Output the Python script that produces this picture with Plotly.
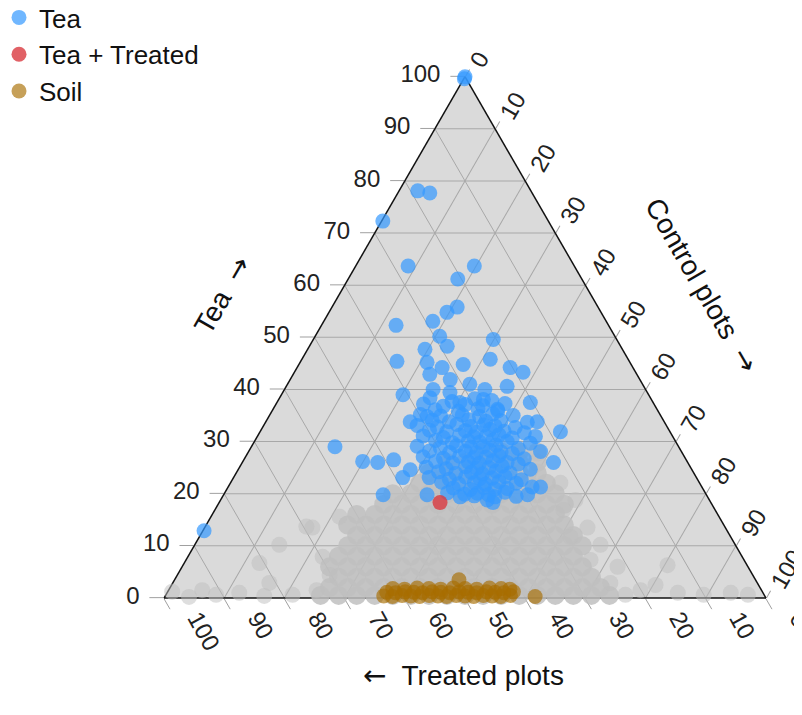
import plotly.graph_objects as go

# ---------------- data (percent) ----------------
# Tea samples: Tea share and Control-plots share; Treated = 100 - Tea - Control
tea_tea = [
    100.0, 99.6, 78.1, 77.7, 72.3, 63.7, 63.7, 61.2, 55.8, 54.8, 53.1, 52.3, 50.2, 49.6,
    47.7, 48.3, 45.4, 45.2, 44.2, 44.8, 45.8, 44.2, 43.3, 42.9, 40.6, 40.0, 39.0, 39.4,
    37.5, 38.1, 36.2, 37.5, 33.8, 34.8, 33.7, 33.8, 31.9, 29.0, 26.2, 26.0, 26.5, 24.6,
    26.0, 23.1, 19.8, 19.8, 19.4, 18.8, 18.3, 19.8, 21.3, 31.0, 12.9, 41.9, 41.0, 40.0,
    38.4, 37.7, 38.2, 37.9,
    37.2, 36.8, 37.1, 36.9, 37.3,
    36.1, 35.8, 36.3, 35.9,
    35.2, 34.9, 35.1, 34.8, 35.3, 35.0,
    34.1, 33.8, 34.2, 33.9, 34.0,
    33.1, 32.8, 33.3, 32.9, 33.2, 33.0, 32.7,
    32.2, 31.9, 32.1, 31.8, 32.3, 32.0, 31.7,
    31.1, 30.8, 31.2, 30.9, 31.0, 31.3, 30.7,
    30.2, 29.8, 30.1, 29.9, 30.3, 30.0, 29.7,
    29.1, 28.8, 29.2, 28.9, 29.0, 29.3, 28.7,
    28.2, 27.9, 28.1, 27.8, 28.3, 28.0, 27.7, 28.1,
    27.1, 26.8, 27.2, 26.9, 27.0, 27.3, 26.7,
    26.2, 25.9, 26.1, 25.8, 26.3, 26.0, 25.7,
    25.1, 24.8, 25.2, 24.9, 25.0, 25.3, 24.7,
    24.2, 23.9, 24.1, 23.8, 24.3, 24.0,
    23.1, 22.8, 23.2, 22.9, 23.0, 23.3, 22.7,
    22.2, 21.9, 22.1, 21.8, 22.3, 22.0,
    21.1, 20.8, 21.2, 20.9, 21.0, 21.3,
    20.2, 19.9, 20.1, 19.8, 20.3,
    19.6, 19.4, 19.5,
]
tea_control = [
    0.0, 0.1, 3.1, 5.3, 0.2, 8.7, 19.7, 18.2, 20.8, 19.6, 18.1, 12.4, 20.7, 29.9,
    19.5, 22.9, 16.0, 21.1, 24.1, 27.3, 31.3, 35.4, 38.0, 22.7, 36.7, 24.7, 20.2, 27.8,
    30.4, 34.0, 37.3, 42.1, 24.0, 26.3, 43.5, 45.1, 49.9, 13.9, 19.9, 22.5, 24.9, 28.6,
    51.7, 28.1, 26.5, 33.8, 39.5, 44.3, 45.5, 50.5, 51.9, 46.2, 0.2, 26.6, 30.3, 33.3,
    25.0, 29.0, 32.5, 35.5,
    24.5, 28.0, 31.5, 34.5, 38.0,
    27.0, 31.0, 34.0, 37.5,
    25.0, 28.5, 32.0, 35.0, 37.0, 40.5,
    27.5, 30.5, 33.5, 36.5, 39.0,
    25.5, 29.0, 32.0, 34.5, 36.5, 38.5, 42.0,
    28.0, 31.0, 34.0, 36.0, 38.0, 40.5, 44.0,
    27.5, 31.0, 33.5, 36.0, 38.0, 40.0, 42.5,
    30.0, 33.0, 35.5, 37.5, 39.5, 42.0, 46.0,
    27.5, 31.5, 34.0, 36.5, 38.5, 40.5, 44.5,
    30.0, 33.5, 36.0, 38.0, 40.0, 42.0, 44.0, 48.5,
    29.5, 33.0, 35.5, 38.0, 40.0, 42.0, 46.5,
    32.0, 35.0, 37.5, 39.5, 41.5, 44.0, 46.0,
    31.0, 34.5, 37.5, 39.5, 41.5, 43.5, 48.5,
    33.5, 36.5, 39.0, 41.0, 43.0, 45.5,
    32.5, 36.0, 38.5, 41.0, 43.0, 45.0, 48.0,
    35.0, 38.0, 40.5, 42.5, 44.5, 47.5,
    37.5, 40.5, 42.5, 44.5, 46.5, 50.5,
    37.0, 40.0, 42.0, 44.0, 46.5,
    41.75, 45.25, 48.75,
]

# Tea + Treated sample
mix_tea = [18.3]
mix_control = [36.7]

# Soil samples
soil_tea = [
    0.4, 0.3, 0.5, 0.4, 0.3, 0.5, 0.4, 0.3, 0.5, 0.4, 0.3, 0.5, 0.4, 0.3, 0.5,
    1.1, 1.0, 1.2, 1.1, 1.0, 1.2, 1.1, 1.0, 1.2, 1.1, 1.0, 1.2, 1.1, 1.0, 1.2,
    1.8, 1.7, 1.9, 1.8, 1.7, 1.9, 1.8, 1.7, 1.9, 1.8, 1.7,
    3.5, 0.3,
]
soil_control = [
    36.3, 37.8, 39.3, 40.8, 42.3, 43.8, 45.3, 46.8, 48.3, 49.8, 51.3, 52.8, 54.3, 55.8, 57.3,
    36.45, 37.95, 39.45, 40.95, 42.45, 43.95, 45.45, 46.95, 48.45, 49.95, 51.45, 52.95, 54.45, 55.95, 57.45,
    37.1, 39.1, 41.1, 43.1, 45.1, 47.1, 49.1, 51.1, 53.1, 55.1, 56.6,
    47.25, 61.5,
]

# Background samples, dense grey cloud
cloud_tea = [
    28, 28, 28, 28,
    26, 26, 26, 26, 26, 26,
    24, 24, 24, 24, 24, 24, 24,
    22, 22, 22, 22, 22, 22, 22, 22,
    20, 20, 20, 20, 20, 20, 20, 20, 20, 20,
    18, 18, 18, 18, 18, 18, 18, 18, 18, 18, 18,
    16, 16, 16, 16, 16, 16, 16, 16, 16, 16, 16, 16,
    14, 14, 14, 14, 14, 14, 14, 14, 14, 14, 14, 14, 14,
    12, 12, 12, 12, 12, 12, 12, 12, 12, 12, 12, 12, 12,
    10, 10, 10, 10, 10, 10, 10, 10, 10, 10, 10, 10, 10, 10,
    8, 8, 8, 8, 8, 8, 8, 8, 8, 8, 8, 8, 8, 8,
    6, 6, 6, 6, 6, 6, 6, 6, 6, 6, 6, 6, 6, 6, 6,
    4, 4, 4, 4, 4, 4, 4, 4, 4, 4, 4, 4, 4, 4, 4,
    2, 2, 2, 2, 2, 2, 2, 2, 2, 2, 2, 2, 2, 2, 2, 2,
    0.5, 0.5, 0.5, 0.5, 0.5, 0.5, 0.5, 0.5, 0.5, 0.5, 0.5, 0.5, 0.5, 0.5, 0.5, 0.5, 0.5,
]
cloud_control = [
    39, 42, 45, 48,
    34, 37, 40, 43, 46, 49,
    32, 35, 38, 41, 44, 47, 50,
    31.5, 34.5, 37.5, 40.5, 43.5, 46.5, 49.5, 52.5,
    28, 31, 34, 37, 40, 43, 46, 49, 52, 55,
    27.5, 30.5, 33.5, 36.5, 39.5, 42.5, 45.5, 48.5, 51.5, 54.5, 57.5,
    24, 27, 30, 33, 36, 39, 42, 45, 48, 51, 54, 57,
    23.5, 26.5, 29.5, 32.5, 35.5, 38.5, 41.5, 44.5, 47.5, 50.5, 53.5, 56.5, 59.5,
    26, 29, 32, 35, 38, 41, 44, 47, 50, 53, 56, 59, 62,
    25.5, 28.5, 31.5, 34.5, 37.5, 40.5, 43.5, 46.5, 49.5, 52.5, 55.5, 58.5, 61.5, 64.5,
    25, 28, 31, 34, 37, 40, 43, 46, 49, 52, 55, 58, 61, 64,
    24.5, 27.5, 30.5, 33.5, 36.5, 39.5, 42.5, 45.5, 48.5, 51.5, 54.5, 57.5, 60.5, 63.5, 66.5,
    27, 30, 33, 36, 39, 42, 45, 48, 51, 54, 57, 60, 63, 66, 69,
    26.5, 29.5, 32.5, 35.5, 38.5, 41.5, 44.5, 47.5, 50.5, 53.5, 56.5, 59.5, 62.5, 65.5, 68.5, 71.5,
    25.75, 28.75, 31.75, 34.75, 37.75, 40.75, 43.75, 46.75, 49.75, 52.75, 55.75, 58.75, 61.75, 64.75, 67.75, 70.75, 73.75,
]

# Background samples, scattered grey points
sparse_tea = [
    1.2, 1.5, 0.6, 1.0, 6.7, 2.9, 0.6, 1.5, 13.5, 7.9, 15.6, 13.7, 10.2, 0.2, 0.4, 4.4,
    16.9, 22.1, 13.5, 11.7, 6.0, 2.9, 6.3, 1.0, 0.6, 1.0, 0.6, 1.5, 7.3, 10.2, 18.8, 0.6, 2.5,
]
sparse_control = [
    0.75, 5.6, 8.35, 12.0, 12.5, 16.05, 21.05, 24.6, 17.9, 22.4, 21.35, 16.8, 14.05, 4.05, 16.45, 25.3,
    57.9, 54.8, 63.6, 61.65, 72.35, 72.7, 80.5, 84.85, 89.35, 93.65, 96.7, 78.4, 67.2, 67.4, 58.95, 76.35, 80.4,
]

ticks = list(range(0, 101, 10))
tick_labels = [str(t) for t in ticks]


def treated(tea, control):
    return [100 - t - c for t, c in zip(tea, control)]


FONT = "Liberation Sans, Arial, sans-serif"
ARROW = '<span style="font-family:DejaVu Sans">\u2192</span>'
LARROW = '<span style="font-family:DejaVu Sans">\u2190</span>'
PAD = "<br>\u00a0<br>\u00a0"  # blank lines: lift the rotated bottom labels

fig = go.Figure()
fig.add_trace(go.Scatterternary(
    a=cloud_tea, b=treated(cloud_tea, cloud_control), c=cloud_control, mode="markers",
    marker=dict(size=19, color="#c0c0c0", opacity=0.85, line=dict(width=0)),
    showlegend=False, hoverinfo="skip", cliponaxis=False))
fig.add_trace(go.Scatterternary(
    a=sparse_tea, b=treated(sparse_tea, sparse_control), c=sparse_control, mode="markers",
    marker=dict(size=16, color="#bdbdbd", opacity=0.5, line=dict(width=0)),
    showlegend=False, hoverinfo="skip", cliponaxis=False))
fig.add_trace(go.Scatterternary(
    a=tea_tea, b=treated(tea_tea, tea_control), c=tea_control, mode="markers",
    name="Tea", cliponaxis=False,
    marker=dict(size=15, color="#3399ff", opacity=0.7, line=dict(width=0))))
fig.add_trace(go.Scatterternary(
    a=mix_tea, b=treated(mix_tea, mix_control), c=mix_control, mode="markers",
    name="Tea + Treated", cliponaxis=False,
    marker=dict(size=15, color="#d93a40", opacity=0.8, line=dict(width=0))))
fig.add_trace(go.Scatterternary(
    a=soil_tea, b=treated(soil_tea, soil_control), c=soil_control, mode="markers",
    name="Soil", cliponaxis=False,
    marker=dict(size=15, color="#a86d00", opacity=0.65, line=dict(width=0))))

axis_common = dict(
    title=dict(text=""), tickmode="array", tickvals=ticks,
    ticks="outside", tickwidth=1, tickcolor="#a0a0a0",
    showgrid=True, gridcolor="#a8a8a8", gridwidth=1,
    showline=True, linecolor="#111111", linewidth=1.5,
    tickfont=dict(family=FONT, size=24, color="#222222"), layer="below traces",
)

fig.update_layout(
    width=802, height=715,
    margin=dict(l=0, r=0, t=0, b=0, autoexpand=False),
    paper_bgcolor="white",
    font=dict(family=FONT, color="#222222"),
    ternary=dict(
        sum=100,
        bgcolor="#dadada",
        domain=dict(x=[156 / 802, 758 / 802], y=[125 / 715, 646.3 / 715]),
        aaxis=dict(**axis_common, ticktext=[t + "\u00a0" for t in tick_labels], tickangle=0, ticklen=14),
        baxis=dict(**axis_common, ticktext=[t + PAD for t in tick_labels], tickangle=61, ticklen=12),
        caxis=dict(**axis_common, ticktext=tick_labels, tickangle=-60, ticklen=8),
    ),
    legend=dict(x=-9 / 802, y=1 + 14 / 715, xanchor="left", yanchor="top",
                font=dict(family=FONT, size=26, color="#111111"),
                bgcolor="rgba(0,0,0,0)"),
    annotations=[
        dict(text="Tea  " + ARROW, x=214 / 802, y=1 - 287 / 715, xref="paper", yref="paper",
             xanchor="center", yanchor="middle",
             showarrow=False, textangle=-60, font=dict(family=FONT, size=28, color="#111111")),
        dict(text="Control plots  " + ARROW, x=694 / 802, y=1 - 277 / 715, xref="paper", yref="paper",
             xanchor="center", yanchor="middle",
             showarrow=False, textangle=60, font=dict(family=FONT, size=28, color="#111111")),
        dict(text=LARROW + "  Treated plots", x=455 / 802, y=1 - 667 / 715, xref="paper", yref="paper",
             xanchor="center", yanchor="middle",
             showarrow=False, font=dict(family=FONT, size=28, color="#111111")),
    ],
)

fig.write_html("out.html")
